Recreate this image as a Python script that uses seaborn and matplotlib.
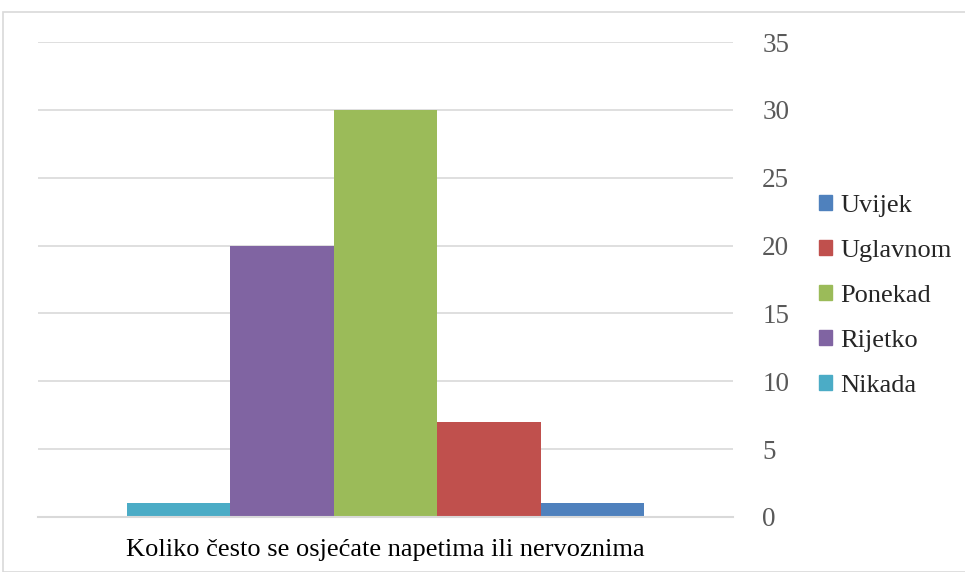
import pandas as pd
import seaborn as sns
import matplotlib.pyplot as plt
from matplotlib.patches import Rectangle

pitanje = 'Koliko često se osjećate napetima ili nervoznima'
odgovori = ['Uvijek', 'Uglavnom', 'Ponekad', 'Rijetko', 'Nikada']
broj = [1, 7, 30, 20, 1]
boje = ['#4F81BD', '#C0504D', '#9BBB59', '#8064A2', '#4BACC6']

df = pd.DataFrame({'pitanje': pitanje, 'odgovor': odgovori, 'broj': broj})

sns.set_style('white')
plt.rcParams['font.family'] = ['Liberation Serif', 'DejaVu Serif']

fig = plt.figure(figsize=(9.65, 5.72), dpi=100)
ax = fig.add_axes([38 / 965, 55 / 572, 695 / 965, 475 / 572])

# excel crta serije zdesna nalijevo, pa je redoslijed obrnut
red = odgovori[::-1]
paleta = dict(zip(odgovori, boje))
sns.barplot(data=df, x='pitanje', y='broj', hue='odgovor', hue_order=red,
            palette=paleta, width=517 / 695, saturation=1, linewidth=0,
            ax=ax, legend=False)

ax.set_xlim(-0.5, 0.5)
ax.set_ylim(0, 35)
ax.set_yticks(range(0, 36, 5))
ax.yaxis.tick_right()
ax.grid(axis='y', color='#d9d9d9', linewidth=1.2)
ax.set_axisbelow(True)
for s in ['top', 'left', 'right']:
    ax.spines[s].set_visible(False)
ax.spines['bottom'].set_color('#d9d9d9')
ax.spines['bottom'].set_linewidth(1.5)
ax.tick_params(axis='y', length=0, pad=21, labelsize=19.5, labelcolor='#595959')
ax.tick_params(axis='x', length=0, pad=16, labelsize=19, labelcolor='black')
ax.set_xlabel('')
ax.set_ylabel('')

ruke = [Rectangle((0, 0), 1, 1, color=paleta[o]) for o in odgovori]
fig.legend(ruke, odgovori, loc='center left', bbox_to_anchor=(808 / 965, 0.4825),
           frameon=False, fontsize=19, handlelength=0.52, handleheight=0.52,
           handletextpad=0.3, labelspacing=0.87, borderaxespad=0)

fig.patches.append(Rectangle((3 / 965, 0), 1, (572 - 12) / 572, transform=fig.transFigure,
                             fill=False, edgecolor='#d9d9d9', linewidth=1.2))

fig.savefig('out.png', dpi=100)
